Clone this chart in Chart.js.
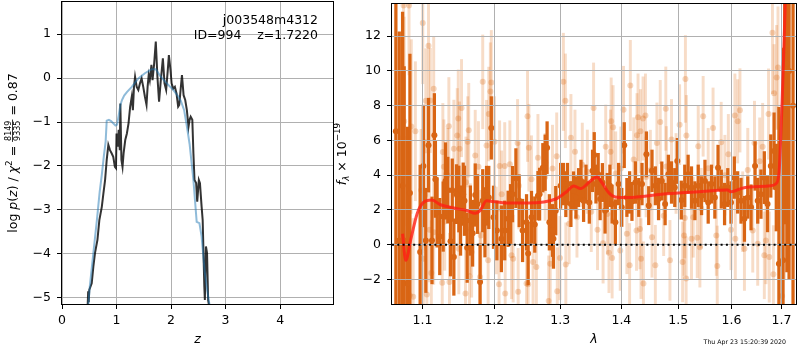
<!DOCTYPE html>
<html><head><meta charset="utf-8">
<script src="https://cdn.jsdelivr.net/npm/chart.js@4.4.0/dist/chart.umd.min.js"></script>
<style>
html,body{margin:0;padding:0;background:#fff;}
#wrap{position:relative;width:800px;height:350px;overflow:hidden;background:#fff;}
canvas{position:absolute;top:0;}
</style>
</head><body>
<div id="wrap">
<canvas id="pz" width="340" height="350" style="left:0;width:340px;height:350px"></canvas>
<canvas id="sp" width="470" height="350" style="left:330px;width:470px;height:350px"></canvas>
</div>
<script>
// ---------------- data: left panel (redshift PDF) ----------------
const zFit = [0.48,0.51,0.575,0.64,0.69,0.73,0.77,0.80,0.82,0.86,0.90,0.94,0.98,1.01,1.04,1.07,1.10,1.14,1.19,1.28,1.40,1.52,1.645,1.72,1.80,1.92,2.04,2.12,2.18,2.24,2.29,2.34,2.41,2.47,2.52,2.56,2.62,2.66,2.71];
const logpFit = [-5.2,-4.74,-3.98,-3.23,-2.6,-2.2,-1.75,-1.45,-0.97,-0.95,-0.98,-1.03,-1.08,-1.06,-0.85,-0.62,-0.5,-0.4,-0.32,-0.2,-0.01,0.11,0.2,0.2,0.05,-0.12,-0.27,-0.4,-0.52,-0.73,-1.1,-1.5,-2.32,-3.27,-3.3,-3.6,-4.44,-4.8,-5.2];
const zGrid = [0.47,0.48,0.49,0.50,0.545,0.575,0.605,0.65,0.685,0.73,0.76,0.79,0.82,0.85,0.88,0.91,0.94,0.97,0.99,1.0,1.02,1.04,1.06,1.07,1.09,1.11,1.13,1.16,1.19,1.22,1.25,1.28,1.30,1.32,1.34,1.37,1.40,1.43,1.46,1.49,1.52,1.55,1.57,1.59,1.61,1.64,1.66,1.69,1.72,1.75,1.78,1.81,1.85,1.88,1.91,1.94,1.96,1.99,2.01,2.04,2.07,2.10,2.13,2.15,2.18,2.20,2.23,2.26,2.29,2.32,2.34,2.36,2.39,2.41,2.43,2.46,2.48,2.51,2.53,2.56,2.58,2.61,2.62,2.64,2.66,2.68,2.70];
const logpGrid = [-5.2,-4.85,-5.1,-4.82,-4.67,-4.29,-3.98,-3.68,-3.23,-2.93,-2.62,-2.32,-1.86,-1.52,-1.64,-1.71,-1.79,-2.02,-2.05,-1.26,-1.56,-1.18,-1.64,-0.58,-1.86,-2.02,-1.71,-1.41,-1.26,-1.03,-0.65,-0.42,-0.73,-0.2,0.03,-0.2,-0.27,-0.12,-0.01,-0.2,-0.42,-0.61,-0.2,0.07,-0.05,0.3,-0.05,0.33,0.83,0.03,-0.54,-0.08,0.45,-0.12,-0.27,0.18,0.52,0.18,-0.12,-0.24,-0.2,-0.35,-0.65,-0.61,-0.2,0.07,-0.39,-0.5,-0.73,-1.11,-0.95,-0.88,-0.95,-1.71,-2.32,-2.39,-2.81,-2.32,-2.39,-2.92,-3.23,-4.74,-5.05,-3.83,-3.98,-5.05,-5.2];
const zTicks = [0,1,2,3,4];
const logpTicks = [-5,-4,-3,-2,-1,0,1];

// ---------------- data: right panel (spectrum) ----------------
const lamDark = [1.065,1.0694,1.0737,1.0758,1.080,1.0833,1.0968,1.1011,1.1044,1.108,
1.1127,1.1159,1.1173,1.1196,1.1232,1.1279,1.1311,1.1343,1.138,1.1404,
1.1426,1.1463,1.1495,1.1519,1.1556,1.1574,1.1612,1.1657,1.1689,1.1726,
1.1758,1.1795,1.1833,1.1865,1.1888,1.192,1.1957,1.1989,1.2038,1.2104,
1.2153,1.2203,1.2239,1.2269,1.2319,1.2368,1.2419,1.2479,1.2503,
1.2554,1.2604,1.2653,1.2678,1.2728,1.2764,1.2794,1.2829,1.2878,1.2893,1.2929,
1.3006,1.3049,1.3088,1.3114,1.3169,1.3211,1.325,1.3292,1.3331,1.3373,1.3412,
1.3466,1.3519,1.3547,1.3575,1.3612,1.3644,1.3682,1.3726,1.3763,1.3807,1.3844,
1.3899,1.3953,1.4007,1.4049,1.4094,1.4141,1.4181,1.424,1.4298,1.4355,1.4432,
1.4472,1.453,1.4589,1.4646,1.4704,
1.4763,1.4821,1.4878,1.4937,1.4983,1.5056,1.5119,1.5181,1.5243,1.5306,
1.5368,1.543,1.5494,1.5555,1.5617,1.5681,1.5742,1.5804,1.5867,1.5929,
1.5991,1.6056,1.6121,1.6187,1.6254,1.632,1.6385,1.6465,1.6518,1.6583,
1.6651,1.6716,1.6782,1.6849,1.6894,1.6948,1.7033,1.7067,1.7113,1.7158,1.7241];
const fluxDark = [6.53,0.25,3.39,0.25,-2.23,2.97,-0.42,4.53,0.25,5.73,
0.25,6.3,3.77,1.86,0.47,1.62,3.67,3.14,0.2,3.14,
-0.71,2.91,2.63,1.39,2.91,2.53,-0.17,1.39,0.66,2.86,
2.34,-2.14,2.53,1.29,2.82,2.72,6.72,1.58,0.82,0.34,
0.82,1.49,1.77,2.91,3.83,2.53,0.82,1.29,-0.51,
1.58,1.16,2.82,2.91,4.43,4.72,5.58,1.29,0.82,0.34,1.96,
3.39,3.49,2.91,3.49,2.34,3.1,2.72,3.29,3.67,2.53,3.49,
2.43,4.25,5.16,3.49,4.06,2.63,3.58,1.96,3.01,3.39,2.34,
1.29,3.49,2.15,5.73,2.72,3.01,2.49,3.58,2.72,3.49,5.2,
2.25,4.25,3.39,2.63,3.67,
2.34,4.06,3.58,3.29,4.82,2.57,3.39,4.06,3.29,2.53,
3.39,2.82,3.67,2.43,3.49,2.72,4.43,3.2,2.34,3.29,
2.43,3.86,3.01,2.53,1.49,2.72,2.15,4.53,2.53,2.91,
3.86,2.34,4.53,5.39,3.29,-1.09,-0.9,11.2,10.43,10.0,8.0];
const errDark = [12,12,10,10,9,8,5,3.5,3,2.7,
2.5,2.4,2.2,2.0,2.2,2.0,2.2,1.9,2.0,1.8,
2.2,1.7,1.9,2.0,1.8,2.0,2.0,2.0,1.9,1.8,
1.7,2.2,1.8,2.0,1.7,1.8,1.8,1.8,1.7,1.9,
1.7,1.6,1.7,1.6,1.7,1.5,1.8,1.6,1.8,
1.5,1.6,1.4,1.5,1.4,1.6,1.5,1.6,1.5,1.7,1.4,
1.3,1.2,1.3,1.2,1.3,1.1,1.2,1.1,1.2,1.2,1.1,
1.2,1.2,1.3,1.1,1.2,1.2,1.1,1.3,1.1,1.2,1.1,
1.3,1.2,1.1,1.3,1.1,1.2,1.1,1.2,1.1,1.2,1.3,
1.1,1.2,1.1,1.2,1.1,
1.2,1.1,1.2,1.1,1.3,1.1,1.2,1.1,1.2,1.1,
1.2,1.1,1.2,1.2,1.1,1.2,1.3,1.1,1.2,1.1,
1.2,1.2,1.2,1.3,1.3,1.2,1.3,1.4,1.3,1.4,
1.5,1.6,1.8,2.2,2.5,9,12,10,12,12,14];

const lamLight = [1.075,1.0821,1.1003,1.108,1.1044,1.1104,1.115,1.0758,1.0851,1.0737,
1.0905,1.1487,1.1533,1.1357,1.1473,1.1426,1.1634,1.162,1.1505,1.1726,
1.1772,1.1833,1.1957,1.1943,1.192,1.1888,1.2003,1.2078,1.2153,1.2229,
1.2494,1.2344,1.1274,1.1288,1.0981,1.1035,1.1094,1.115,1.13,1.1657,
1.1805,1.1011,1.1118,1.1058,1.083,1.0876,1.1266,1.1365,1.1645,1.1588,
1.1911,1.207,1.216,1.2353,1.2479,1.2254,1.2278,1.2029,1.1795,1.1675,
1.1495,1.2514,1.2653,1.2878,1.2944,1.3049,1.3081,1.3169,1.3234,1.3536,
1.3737,1.3818,1.3828,1.386,1.4037,1.4153,1.4286,1.4373,1.4415,1.4328,
1.4268,1.4676,1.4617,1.4501,1.4211,1.3991,1.2554,1.2578,1.2629,1.2503,
1.2843,1.2818,1.2953,1.2995,1.3088,1.3141,1.3266,1.3601,1.3693,1.3791,
1.3844,1.3981,1.4094,1.4141,1.426,1.432,1.4338,1.438,1.453,1.4589,
1.3763,1.5131,1.4775,1.4878,1.5025,1.5149,1.546,1.5647,1.5802,1.594,
1.6067,1.6166,1.6121,1.6453,1.6617,1.6736,1.6849,1.6901,1.6929,1.6816,
1.5368,1.5275,1.512,1.4737,1.5107,1.5243,1.535,1.5399,1.485,1.508,
1.5144,1.5727,1.5709,1.5991,1.6075,1.6254,1.6419,1.6518,1.6651,1.6683,
1.675,1.6835,1.7014,1.2764,1.3352,1.3434,1.3904,1.4427,1.4785,1.496,
1.5555,1.5873,1.632,1.6558,1.2363,1.1595,1.1339,1.2108,1.3498,1.5424,
1.622,1.7065,1.712];
const fluxLight = [13.77,13.77,12.76,11.45,8.28,8.3,8.97,7.1,6.8,6.15,
6.53,7.26,7.86,6.82,6.29,5.52,6.59,5.92,5.52,5.14,
4.49,9.37,9.33,8.82,7.52,5.71,5.92,4.53,4.53,4.63,
7.39,5.86,5.33,4.49,3.14,2.87,0.86,0.72,1.33,0.91,
0.53,-0.8,-1.62,-2.86,-2.9,-2.99,-2.19,-2.14,-1.81,-2.8,
-0.9,-2.27,-2.8,-2.71,-2.23,-0.61,-0.8,0.82,-1.85,-0.42,
-0.23,5.58,5.0,4.38,5.09,9.37,8.28,6.15,5.35,7.86,
5.64,5.35,7.1,6.76,7.77,9.16,7.33,7.26,7.43,6.53,
6.3,7.06,5.86,4.29,4.91,4.38,3.77,-0.99,-1.28,-2.27,
-1.09,-3.24,-2.67,-0.77,-1.14,1.2,1.58,0.86,0.09,-0.46,
-0.77,-0.33,0.63,-1.18,0.82,0.91,-0.8,-2.23,0.43,-1.18,
1.77,9.54,7.83,6.06,6.91,6.29,7.39,6.72,5.9,5.2,
7.43,7.73,7.1,5.86,5.64,7.52,8.72,9.62,10.19,12.19,
5.67,1.58,1.54,1.67,0.53,0.34,0.4,-0.14,-0.9,-0.99,
-1.94,-1.22,0.53,0.86,0.34,-0.23,0.82,0.06,-0.61,0.25,
-0.71,-1.7,-2.95,3.9,4.6,4.2,4.1,3.9,4.5,4.1,
4.4,4.0,4.3,4.8,3.4,3.6,4.0,2.9,1.9,2.1,
1.9,6.0,9.0];
const errLight = [4,4,3.5,3,3,3,3,6,5,6,
4,2.8,2.8,2.8,2.7,2.8,2.7,2.6,2.7,2.6,
2.6,2.7,3,2.8,2.7,2.6,2.6,2.6,2.5,2.5,
2.6,2.5,2.8,2.7,3.5,3.2,3,3,2.8,2.6,
2.6,3.2,3,3,5,4.5,2.8,2.8,2.7,2.7,
2.6,2.6,2.6,2.5,2.5,2.5,2.5,2.5,2.6,2.6,
2.6,2.5,2.5,2.5,2.5,2.8,2.7,2.5,2.4,2.6,
2.4,2.4,2.5,2.4,2.5,2.6,2.5,2.4,2.4,2.4,
2.4,2.4,2.3,2.3,2.4,2.4,2.5,2.5,2.5,2.5,
2.5,2.6,2.5,2.4,2.4,2.3,2.3,2.3,2.3,2.3,
2.3,2.3,2.3,2.4,2.3,2.3,2.3,2.4,2.3,2.3,
2.3,2.5,2.4,2.3,2.3,2.3,2.3,2.3,2.3,2.3,
2.4,2.4,2.4,2.4,2.5,2.6,2.8,3,3.5,3.5,
2.3,2.3,2.3,2.3,2.3,2.3,2.3,2.3,2.3,2.3,
2.4,2.3,2.3,2.3,2.3,2.4,2.4,2.4,2.5,2.5,
2.6,2.8,4,2.5,2.4,2.4,2.4,2.3,2.3,2.3,
2.3,2.3,2.4,2.5,2.5,2.6,2.7,2.5,2.3,2.3,
2.3,8,6];

const lamModel = [1.0737,1.0779,1.0842,1.0927,1.1011,1.1127,1.1242,1.1426,1.1612,1.1726,1.1795,1.1888,1.1979,1.2179,1.2503,1.2928,1.3084,1.3216,1.3323,1.3484,1.3591,1.3673,1.3784,1.3896,1.412,1.4697,1.530,1.5925,1.5989,1.6248,1.6777,1.6878,1.6948,1.698,1.7014,1.7048,1.7067,1.709];
const fluxModel = [0.63,-0.9,0.25,1.77,2.43,2.57,2.3,2.11,1.96,1.81,1.96,2.53,2.49,2.4,2.4,2.63,3.0,3.38,3.23,3.67,3.9,3.58,3.0,2.75,2.72,2.9,3.03,3.15,3.05,3.28,3.39,3.49,4.06,5.77,8.25,11.1,12.8,15];

const zeroLine = [1.06, 1.7303];
const lamTicks = [1.1,1.2,1.3,1.4,1.5,1.6,1.7];
const fluxTicks = [-2,0,2,4,6,8,10,12];

// ---------------- helpers ----------------
const FONT = 'DejaVu Sans';
Chart.defaults.font.family = FONT;
Chart.defaults.font.size = 12.5;
Chart.defaults.color = '#000';
const pairs = (xs, ys) => xs.map((x, i) => ({x, y: ys[i]}));
const bars = (xs, ys, es) => xs.map((x, i) => ({x, y: [ys[i] - es[i], ys[i] + es[i]]}));
const minus = v => String(v).replace('-', '\u2212');
const setTicks = arr => (s => { s.ticks = arr.map(v => ({value: v})); });
const grid = () => ({color: '#b0b0b0', lineWidth: 1, drawTicks: true, tickLength: 5, tickColor: '#000', tickWidth: 1});
const fitX = s => { s.height = 46; s.paddingLeft = 0; s.paddingRight = 0; s.paddingTop = 0; s.paddingBottom = 0; };
const fitY = s => { s.width = 62; s.paddingLeft = 0; s.paddingRight = 0; s.paddingTop = 0; s.paddingBottom = 0; };

const frame = {id: 'frame', afterDraw(chart) {
  const a = chart.chartArea, c = chart.ctx;
  c.save(); c.strokeStyle = '#000'; c.lineWidth = 1;
  c.strokeRect(a.left - 0.5, a.top - 0.5, a.right - a.left + 1, a.bottom - a.top + 1);
  c.restore();
}};

function rich(ctx, cx, cy, segs, size) {
  ctx.save(); ctx.translate(cx, cy); ctx.rotate(-Math.PI / 2);
  ctx.fillStyle = '#000'; ctx.textBaseline = 'alphabetic'; ctx.textAlign = 'left';
  const f = s => (s.it ? 'italic ' : '') + (s.sz || size) + 'px "DejaVu Sans"';
  let total = 0;
  segs.forEach(s => {
    ctx.font = f(s);
    s.w = s.frac ? Math.max(ctx.measureText(s.frac[0]).width, ctx.measureText(s.frac[1]).width) + 2 : ctx.measureText(s.t).width;
    total += s.w;
  });
  let x = -total / 2;
  segs.forEach(s => {
    ctx.font = f(s);
    if (s.frac) {
      const w0 = ctx.measureText(s.frac[0]).width, w1 = ctx.measureText(s.frac[1]).width;
      ctx.fillText(s.frac[0], x + (s.w - w0) / 2, s.nb);
      ctx.fillText(s.frac[1], x + (s.w - w1) / 2, s.db);
      ctx.fillRect(x, s.bar - 0.4, s.w, 0.8);
    } else ctx.fillText(s.t, x, s.dy || 0);
    x += s.w;
  });
  ctx.restore();
}

// ---------------- left chart ----------------
const leftText = {id: 'leftText', afterDraw(chart) {
  const c = chart.ctx, a = chart.chartArea;
  rich(c, 17, (a.top + a.bottom) / 2, [
    {t: 'log '}, {t: 'p', it: 1}, {t: '('}, {t: 'z', it: 1}, {t: ') / '},
    {t: 'χ', it: 1}, {t: '2', sz: 8.75, dy: -5}, {t: ' = '},
    {frac: ['8149', '9335'], sz: 8, nb: -5.8, db: 2.6, bar: -4.4}, {t: ' = 0.87'}
  ], 12.5);
  c.save(); c.fillStyle = '#000'; c.font = '12.5px "DejaVu Sans"'; c.textAlign = 'right'; c.textBaseline = 'alphabetic';
  c.fillText('j003548m4312', 318, 24);
  c.fillText('ID=994    z=1.7220', 318, 39);
  c.restore();
}};

new Chart(document.getElementById('pz'), {
  type: 'scatter',
  data: {datasets: [
    {label: 'fit', data: pairs(zFit, logpFit), showLine: true, borderColor: 'rgba(31,119,180,0.5)', borderWidth: 2, pointRadius: 0, clip: 0, order: 1},
    {label: 'pz', data: pairs(zGrid, logpGrid), showLine: true, borderColor: 'rgba(0,0,0,0.8)', borderWidth: 2, pointRadius: 0, clip: 0, order: 2}
  ]},
  options: {
    responsive: false, animation: false, devicePixelRatio: 1, events: [],
    layout: {padding: {top: 2, right: 7, left: 0, bottom: 0}},
    plugins: {legend: {display: false}, tooltip: {enabled: false}},
    scales: {
      x: {type: 'linear', min: 0, max: 4.97, afterBuildTicks: setTicks(zTicks), afterFit: fitX,
          grid: grid(), border: {display: false},
          ticks: {padding: 4, maxRotation: 0, autoSkip: false, callback: v => minus(v)},
          title: {display: true, text: 'z', font: {style: 'italic', size: 12.5}, padding: {top: 0, bottom: 3}}},
      y: {type: 'linear', min: -5.14, max: 1.73, afterBuildTicks: setTicks(logpTicks), afterFit: fitY,
          grid: grid(), border: {display: false},
          ticks: {padding: 6, autoSkip: false, callback: v => minus(v)}}
    }
  },
  plugins: [frame, leftText]
});

// ---------------- right chart ----------------
const rightText = {id: 'rightText', afterDraw(chart) {
  const c = chart.ctx, a = chart.chartArea;
  rich(c, 15.5, (a.top + a.bottom) / 2, [
    {t: 'f', it: 1}, {t: 'λ', it: 1, sz: 8.75, dy: 3}, {t: ' × 10'}, {t: '\u221219', sz: 8.75, dy: -5.5}
  ], 12.5);
  c.save(); c.fillStyle = '#000'; c.font = '6.25px "DejaVu Sans"'; c.textAlign = 'right'; c.textBaseline = 'alphabetic';
  c.fillText('Thu Apr 23 15:20:39 2020', 456, 344);
  c.restore();
}};
const gridTop = {id: 'gridTop', afterDatasetDraw(chart, args) {
  const ds = chart.data.datasets[args.index];
  if (ds.label === 'darkPts') {
    chart.scales.x.drawGrid(chart.chartArea);
    chart.scales.y.drawGrid(chart.chartArea);
  }
}};

const ORANGE = '#d96514';
const ORANGE_LIGHT = 'rgba(217,95,2,0.22)';
new Chart(document.getElementById('sp'), {
  type: 'scatter',
  data: {datasets: [
    {type: 'bar', label: 'lightErr', data: bars(lamLight, fluxLight, errLight), backgroundColor: ORANGE_LIGHT, barThickness: 2.3, grouped: false, borderWidth: 0, clip: 0, order: 6},
    {type: 'scatter', label: 'lightPts', data: pairs(lamLight, fluxLight), pointRadius: 3, pointBackgroundColor: 'rgba(217,95,2,0.26)', pointBorderWidth: 0, clip: 0, order: 5},
    {type: 'bar', label: 'darkErr', data: bars(lamDark, fluxDark, errDark), backgroundColor: ORANGE, barThickness: 2.6, grouped: false, borderWidth: 0, clip: 0, order: 4},
    {type: 'scatter', label: 'darkPts', data: pairs(lamDark, fluxDark), pointRadius: 3, pointBackgroundColor: ORANGE, pointBorderWidth: 0, clip: 0, order: 3},
    {type: 'line', label: 'model', data: pairs(lamModel, fluxModel), showLine: true, borderColor: 'rgba(255,30,20,0.8)', borderWidth: 3, pointRadius: 0, cubicInterpolationMode: 'monotone', clip: 0, order: 2},
    {type: 'line', label: 'zero', data: zeroLine.map(x => ({x, y: 0})), showLine: true, borderColor: '#000', borderWidth: 2, borderDash: [2, 3.3], pointRadius: 0, clip: 0, order: 1}
  ]},
  options: {
    responsive: false, animation: false, devicePixelRatio: 1, events: [],
    layout: {padding: {top: 2, right: 1, left: 0, bottom: 0}},
    plugins: {legend: {display: false}, tooltip: {enabled: false}},
    scales: {
      x: {type: 'logarithmic', min: 1.06, max: 1.7303, offset: false, afterBuildTicks: setTicks(lamTicks), afterFit: fitX,
          grid: Object.assign(grid(), {offset: false}), border: {display: false},
          ticks: {padding: 4, maxRotation: 0, autoSkip: false, callback: v => Number(v).toFixed(1)},
          title: {display: true, text: 'λ', font: {style: 'italic', size: 12.5}, padding: {top: 0, bottom: 3}}},
      y: {type: 'linear', min: -3.41, max: 13.85, afterBuildTicks: setTicks(fluxTicks), afterFit: fitY,
          grid: grid(), border: {display: false},
          ticks: {padding: 6, autoSkip: false, callback: v => minus(v)}}
    }
  },
  plugins: [frame, rightText, gridTop]
});
</script>
</body></html>
